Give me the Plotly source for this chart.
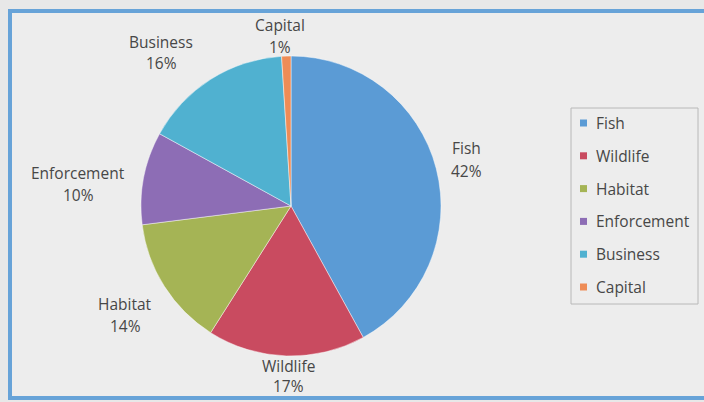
import plotly.graph_objects as go

# Budget shares by program area (percent)
labels = ["Fish", "Wildlife", "Habitat", "Enforcement", "Business", "Capital"]
shares = [42, 17, 14, 10, 16, 1]
colors = ["#5b9bd5", "#c94b60", "#a5b455", "#8d6db5", "#50b1d0", "#ee8c56"]

W, H = 704, 402
cx, cy, r = 291, 206, 150           # pie centre and radius, px
label_pos = {                        # (x, name y, percent y), px
    "Fish": (466, 148, 171),
    "Wildlife": (288, 366, 386),
    "Habitat": (125, 304, 326),
    "Enforcement": (78, 173, 195),
    "Business": (161, 42, 63),
    "Capital": (280, 25, 47),
}
legend_box = (571, 108, 698, 304)
legend_y0, legend_step = 123, 32.8
txt_font = dict(family="Open Sans, Noto Sans, sans-serif", size=15.5, color="#474747")


def px(x):
    return x / W


def py(y):
    return 1 - y / H


fig = go.Figure()

fig.add_trace(go.Pie(
    labels=labels, values=shares, sort=False, direction="clockwise", rotation=0,
    marker=dict(colors=colors, line=dict(color="rgba(255,255,255,0.45)", width=1)),
    textinfo="none", showlegend=False,
    domain=dict(x=[px(cx - r), px(cx + r)], y=[py(cy + r), py(cy - r)]),
))

annotations = []
shapes = [
    # chart frame
    dict(type="rect", xref="paper", yref="paper", x0=px(10), y0=py(398),
         x1=px(W + 20), y1=py(11),
         line=dict(color="#67a3d8", width=4), fillcolor="#ededed", layer="below"),
    # legend frame
    dict(type="rect", xref="paper", yref="paper", x0=px(legend_box[0]), y0=py(legend_box[3]),
         x1=px(legend_box[2]), y1=py(legend_box[1]),
         line=dict(color="#b8b8b8", width=1), fillcolor="rgba(0,0,0,0)", layer="above"),
]

total = sum(shares)
for i, (name, val, col) in enumerate(zip(labels, shares, colors)):
    x, yn, yp = label_pos[name]
    pct = round(100 * val / total)
    annotations.append(dict(x=px(x), y=py(yn), xref="paper", yref="paper", text=name,
                            showarrow=False, font=txt_font, xanchor="center", yanchor="middle"))
    annotations.append(dict(x=px(x), y=py(yp), xref="paper", yref="paper", text=f"{pct}%",
                            showarrow=False, font=txt_font, xanchor="center", yanchor="middle"))
    ly = legend_y0 + i * legend_step
    shapes.append(dict(type="rect", xref="paper", yref="paper", x0=px(580), x1=px(587),
                       y0=py(ly + 3.5), y1=py(ly - 3.5), fillcolor=col, line=dict(width=0),
                       layer="above"))
    annotations.append(dict(x=px(594), y=py(ly), xref="paper", yref="paper", text=name,
                            showarrow=False, font=txt_font, xanchor="left", yanchor="middle"))

fig.update_layout(
    width=W, height=H, margin=dict(l=0, r=0, t=0, b=0),
    paper_bgcolor="#e8e8e8", plot_bgcolor="rgba(0,0,0,0)",
    shapes=shapes, annotations=annotations, showlegend=False,
)

fig.write_html("out.html")
